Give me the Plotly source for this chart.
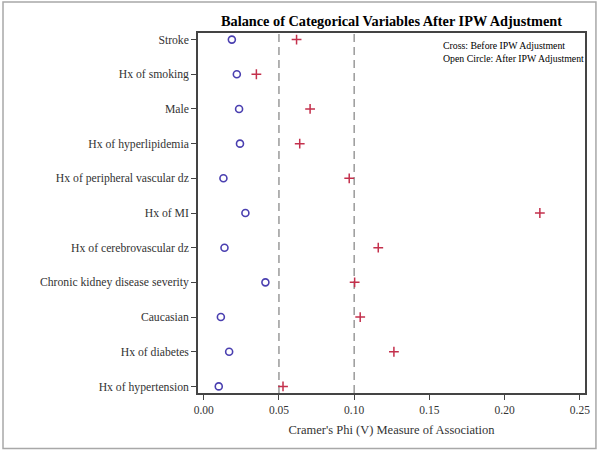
import plotly.graph_objects as go

categories = ["Stroke", "Hx of smoking", "Male", "Hx of hyperlipidemia",
              "Hx of peripheral vascular dz", "Hx of MI", "Hx of cerebrovascular dz",
              "Chronic kidney disease severity", "Caucasian", "Hx of diabetes",
              "Hx of hypertension"]
before_ipw = [0.0617, 0.035, 0.0707, 0.0638, 0.0967, 0.2234, 0.116, 0.1003, 0.104, 0.1264, 0.0527]
after_ipw = [0.0187, 0.022, 0.0235, 0.0241, 0.0131, 0.0277, 0.0138, 0.041, 0.0114, 0.0169, 0.010]
ref_lines = [0.05, 0.10]
x_ticks = [0.00, 0.05, 0.10, 0.15, 0.20, 0.25]
x_tick_labels = ["0.00", "0.05", "0.10", "0.15", "0.20", "0.25"]

SERIF = "Liberation Serif"

fig = go.Figure()
fig.add_trace(go.Scatter(
    x=after_ipw, y=categories, mode="markers", name="After IPW",
    marker=dict(symbol="circle-open", size=7, color="#4a3fb0", line=dict(width=1.6, color="#4a3fb0")),
    showlegend=False))
fig.add_trace(go.Scatter(
    x=before_ipw, y=categories, mode="markers", name="Before IPW",
    marker=dict(symbol="cross-thin-open", size=7, color="#c4304c", line=dict(width=1.5, color="#c4304c")),
    showlegend=False))

for v in ref_lines:
    fig.add_shape(type="line", x0=v, x1=v, y0=0, y1=1, xref="x", yref="paper",
                  line=dict(color="#9a9a9a", width=1.5, dash="8px,5px"), layer="below")

# outer frame
fig.add_shape(type="rect", xref="paper", yref="paper",
              x0=(2 - 198) / 389, x1=(598 - 198) / 389,
              y0=(393 - 448.5) / 360, y1=(393 - 2) / 360,
              line=dict(color="#a8a8a8", width=1.5), fillcolor="rgba(0,0,0,0)")

fig.add_annotation(text="<b>Balance of Categorical Variables After IPW Adjustment</b>",
                   xref="paper", yref="paper", x=0.5, y=(393 - 20.7) / 360,
                   xanchor="center", yanchor="middle", showarrow=False,
                   font=dict(family=SERIF, size=14.3, color="#000"))
fig.add_annotation(text="Cross: Before IPW Adjustment<br>Open Circle: After IPW Adjustment",
                   xref="paper", yref="paper", x=(442 - 198) / 389, y=(393 - 38) / 360,
                   xanchor="left", yanchor="top", align="left", showarrow=False,
                   font=dict(family=SERIF, size=9.8, color="#000"))

fig.update_layout(
    width=602, height=451,
    margin=dict(l=198, r=15, t=33, b=58),
    paper_bgcolor="white", plot_bgcolor="white",
    font=dict(family=SERIF, color="#333"),
    xaxis=dict(range=[-0.0038, 0.2534], tickvals=x_ticks, ticktext=x_tick_labels,
               showgrid=False, zeroline=False, showline=True, linecolor="#444", linewidth=1.5,
               mirror=True, ticks="outside", ticklen=5, tickwidth=1.3, tickcolor="#444",
               tickfont=dict(family=SERIF, size=11.5, color="#333"),
               title=dict(text="Cramer's Phi (V) Measure of Association",
                          font=dict(family=SERIF, size=12.5, color="#333"), standoff=11)),
    yaxis=dict(categoryorder="array", categoryarray=categories[::-1],
               range=[-0.19, 10.19], showgrid=False, zeroline=False,
               showline=True, linecolor="#444", linewidth=1.5, mirror=True,
               ticks="outside", ticklen=5, tickwidth=1.3, tickcolor="#444",
               tickfont=dict(family=SERIF, size=11.7, color="#333")),
)

fig.write_html("out.html", config={"displayModeBar": False},
               post_script="document.body.style.margin='0';")
